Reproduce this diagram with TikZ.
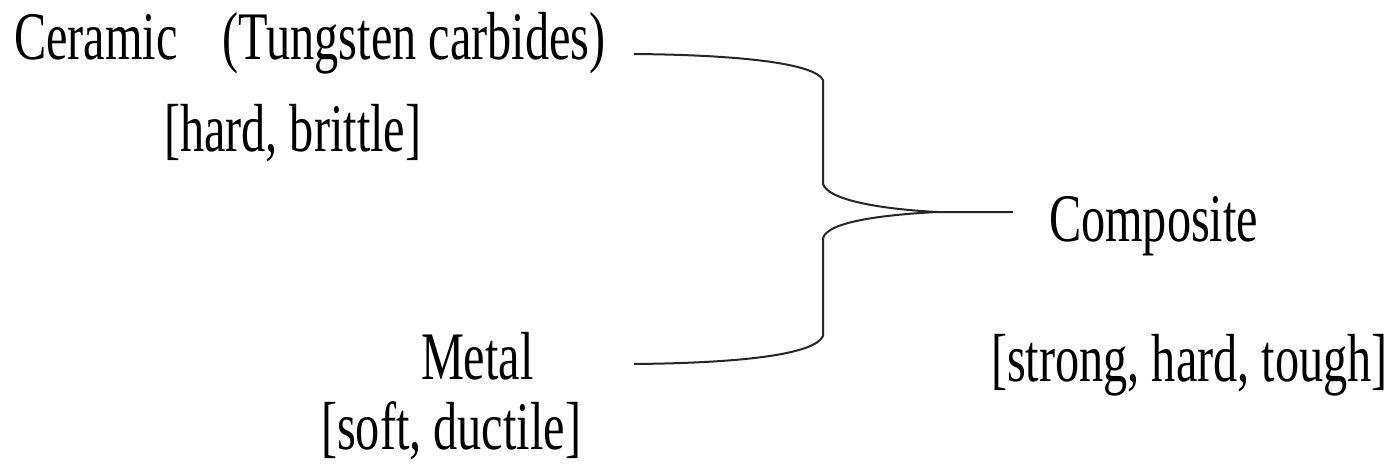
\documentclass[tikz,border=0pt]{standalone}
\usepackage{fontspec}
\setmainfont{Liberation Serif}[FakeStretch=0.71]
\begin{document}
\begin{tikzpicture}[x=1pt,y=-1pt,
  lbl/.style={anchor=base west,inner sep=0pt,outer sep=0pt,font=\fontsize{68}{80}\selectfont},
  brace/.style={line width=2pt,draw=black!85}]
\useasboundingbox (0,0) rectangle (1397,468);
\node[lbl] (cer) at (14,60) {Ceramic\hspace{45pt}(Tungsten carbides)};
\node[lbl] (hb) at (164,151) {[hard, brittle]};
\node[lbl] (met) at (421,379) {Metal};
\node[lbl] (sd) at (321,449) {[soft, ductile]};
\node[lbl] (comp) at (1049,241) {Composite};
\node[lbl] (shs) at (991,381) {[strong, hard, tough]};
\coordinate (t1) at (634,54);
\coordinate (tip) at (937,212);
\coordinate (tend) at (1013,212);
\coordinate (b1) at (634,364);
\draw[brace] (t1) .. controls (745,55) and (815,64) .. (823,80) -- (823,184)
  .. controls (828,200) and (880,209) .. (tip) -- (tend);
\draw[brace] (tip) .. controls (880,215) and (828,222) .. (823,238) -- (823,336)
  .. controls (815,354) and (745,363) .. (b1);
\end{tikzpicture}
\end{document}
